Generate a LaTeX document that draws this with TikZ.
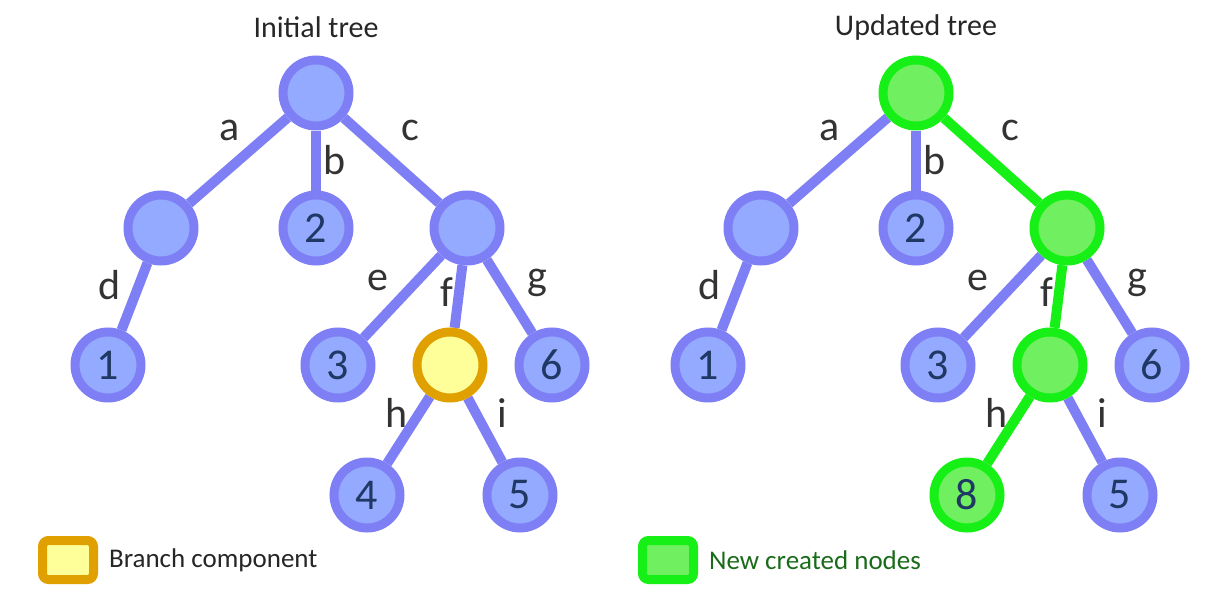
\documentclass[tikz,border=0pt]{standalone}
\usepackage{fontspec}
\setmainfont{Carlito}
\usetikzlibrary{backgrounds}

\definecolor{ringblue}{HTML}{7F7FF5}
\definecolor{fillblue}{HTML}{94AAFF}
\definecolor{numblue}{HTML}{1F3864}
\definecolor{ringgold}{HTML}{E0A000}
\definecolor{fillyellow}{HTML}{FFFF99}
\definecolor{ringgreen}{HTML}{16F016}
\definecolor{fillgreen}{HTML}{70F060}
\definecolor{textgreen}{HTML}{1A6B1A}

\tikzset{
 tnode/.style={circle, draw=ringblue, fill=fillblue, line width=4.5pt,
   minimum size=33pt, inner sep=0pt, text=numblue, font=\fontsize{22}{22}\selectfont},
 bnode/.style={tnode, draw=ringgold, fill=fillyellow},
 gnode/.style={tnode, draw=ringgreen, fill=fillgreen},
 tedge/.style={draw=ringblue, line width=5pt},
 gedge/.style={draw=ringgreen, line width=5pt},
 elabel/.style={text=black!80, font=\fontsize{21}{21}\selectfont},
 ttitle/.style={text=black!85, font=\fontsize{15}{15}\selectfont},
 lbox/.style={rectangle, rounded corners=3pt, line width=4.5pt,
   minimum width=25.5pt, minimum height=19.5pt},
 ltext/.style={anchor=west, font=\fontsize{13.5}{13.5}\selectfont}
}

\begin{document}
\begin{tikzpicture}[x=0.5pt, y=-0.5pt]
%\draw[help lines] (0,0) grid[step=50] (1206,595);
\useasboundingbox (0,0) rectangle (1206,595);

% initial tree
\node[ttitle] (lt) at (316,27) {Initial tree};
\node[tnode] (lr) at (316,93) {};
\node[tnode] (la) at (161,228) {};
\node[tnode] (l2) at (316,228) {2};
\node[tnode] (lc) at (467,228) {};
\node[tnode] (l1) at (108,365) {1};
\node[tnode] (l3) at (338,365) {3};
\node[bnode] (lf) at (450,365) {};
\node[tnode] (l6) at (552,365) {6};
\node[tnode] (l4) at (367,495) {4};
\node[tnode] (l5) at (520,495) {5};

\begin{scope}[on background layer]
 \draw[tedge] (lr) -- (la);
 \draw[tedge] (lr) -- (l2);
 \draw[tedge] (lr) -- (lc);
 \draw[tedge] (la) -- (l1);
 \draw[tedge] (lc) -- (l3);
 \draw[tedge] (lc) -- (lf);
 \draw[tedge] (lc) -- (l6);
 \draw[tedge] (lf) -- (l4);
 \draw[tedge] (lf) -- (l5);
\end{scope}

\node[elabel] (lea) at (230,130) {a};
\node[elabel] (leb) at (335,160) {b};
\node[elabel] (lec) at (410,130) {c};
\node[elabel] (led) at (110,285) {d};
\node[elabel] (lee) at (378,280) {e};
\node[elabel] (lef) at (447,292) {f};
\node[elabel] (leg) at (537,283) {g};
\node[elabel] (leh) at (397,413) {h};
\node[elabel] (lei) at (502,413) {i};

% updated tree
\node[ttitle] (rt) at (916,27) {Updated tree};
\node[gnode] (rr) at (916,93) {};
\node[tnode] (ra) at (761,228) {};
\node[tnode] (r2) at (916,228) {2};
\node[gnode] (rc) at (1067,228) {};
\node[tnode] (r1) at (708,365) {1};
\node[tnode] (r3) at (938,365) {3};
\node[gnode] (rf) at (1050,365) {};
\node[tnode] (r6) at (1152,365) {6};
\node[gnode] (r8) at (967,495) {8};
\node[tnode] (r5) at (1120,495) {5};

\begin{scope}[on background layer]
 \draw[tedge] (rr) -- (ra);
 \draw[tedge] (rr) -- (r2);
 \draw[gedge] (rr) -- (rc);
 \draw[tedge] (ra) -- (r1);
 \draw[tedge] (rc) -- (r3);
 \draw[gedge] (rc) -- (rf);
 \draw[tedge] (rc) -- (r6);
 \draw[gedge] (rf) -- (r8);
 \draw[tedge] (rf) -- (r5);
\end{scope}

\node[elabel] (rea) at (830,130) {a};
\node[elabel] (reb) at (935,160) {b};
\node[elabel] (rec) at (1010,130) {c};
\node[elabel] (red) at (710,285) {d};
\node[elabel] (ree) at (978,280) {e};
\node[elabel] (ref) at (1047,292) {f};
\node[elabel] (reg) at (1137,283) {g};
\node[elabel] (reh) at (997,413) {h};
\node[elabel] (rei) at (1102,413) {i};

% legend
\node[lbox, draw=ringgold, fill=fillyellow] (lbb) at (68,560) {};
\node[ltext, text=black!85] (lbt) at (102,560) {Branch component};
\node[lbox, draw=ringgreen, fill=fillgreen] (lgb) at (668,560) {};
\node[ltext, text=textgreen] (lgt) at (702,560) {New created nodes};

\end{tikzpicture}
\end{document}
